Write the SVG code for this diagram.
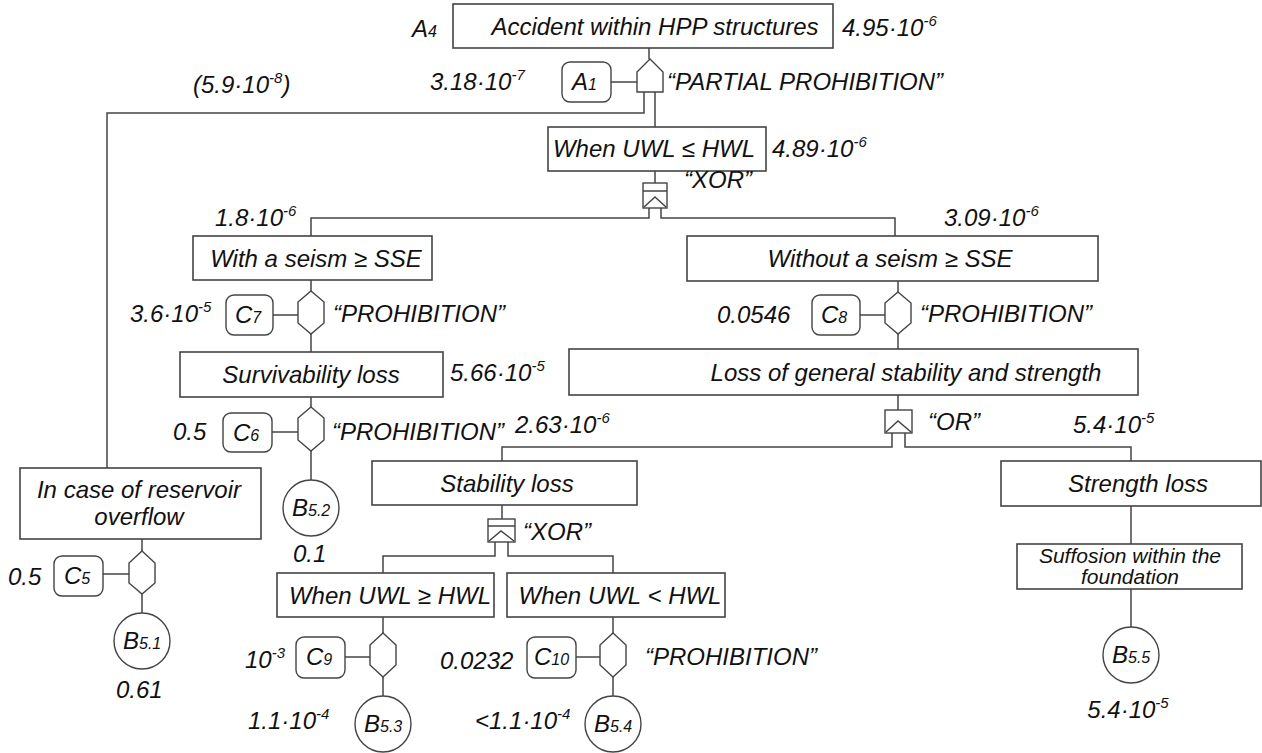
<svg xmlns="http://www.w3.org/2000/svg" width="1262" height="753" viewBox="0 0 1262 753">
<style>
text{font-family:"Liberation Sans",Arial,sans-serif;font-style:italic;font-size:24px;fill:#111}
.m{text-anchor:middle}
.s{font-size:21px}
.sup{font-size:15px}
.sub{font-size:16px}
.box{fill:#fff;stroke:#444;stroke-width:1.6}
.cb{fill:#fff;stroke:#444;stroke-width:1.4}
.g{fill:#fff;stroke:#444;stroke-width:1.4}
.ln{fill:none;stroke:#444;stroke-width:1.5}
</style>
<rect width="1262" height="753" fill="#fff"/>
<g id="connectors" class="ln">
<path d="M649 48V59"/>
<path d="M611 82H637"/>
<path d="M644 92V113H107V468"/>
<path d="M655 92V127"/>
<path d="M655 171V183"/>
<path d="M649 208V218H311V236"/>
<path d="M661 208V218H895V236"/>
<path d="M311 280V291"/>
<path d="M273 315H298"/>
<path d="M311 334V352"/>
<path d="M311 397V407"/>
<path d="M272 432H298"/>
<path d="M311 451V480"/>
<path d="M898 281V292"/>
<path d="M860 315H885"/>
<path d="M898 334V349"/>
<path d="M898 395V410"/>
<path d="M892 433V447H502V461"/>
<path d="M905 433V447H1131V461"/>
<path d="M502 505V519"/>
<path d="M495 542V556H383V573"/>
<path d="M508 542V556H613V573"/>
<path d="M383 617V633"/>
<path d="M345 657H370"/>
<path d="M383 677V696"/>
<path d="M613 617V633"/>
<path d="M576 657H600"/>
<path d="M613 677V696"/>
<path d="M142 539V551"/>
<path d="M103 574H129"/>
<path d="M142 594V613"/>
<path d="M1131 506V544"/>
<path d="M1131 589V627"/>
</g>
<g id="top">
<rect class="box" x="453" y="4" width="380" height="44"/>
<text class="m" x="655" y="35">Accident within HPP structures</text>
<text x="412" y="37">A<tspan class="sub">4</tspan></text>
<text x="842" y="36">4.95·10<tspan class="sup" dy="-10">-6</tspan></text>
</g>
<g id="gate-partial">
<polygon class="g" points="650,59 663,72 663,92 637,92 637,72"/>
<text x="667" y="90">“PARTIAL PROHIBITION”</text>
<text x="430" y="90">3.18·10<tspan class="sup" dy="-10">-7</tspan></text>
</g>
<g id="A1">
<rect class="cb" x="562" y="62" width="49" height="40" rx="8"/>
<text x="572" y="90">A<tspan class="sub">1</tspan></text>
</g>
<g id="note-overflow">
<text x="193" y="93">(5.9·10<tspan class="sup" dy="-10">-8</tspan><tspan dy="10">)</tspan></text>
</g>
<g id="when-le">
<rect class="box" x="548" y="127" width="218" height="44"/>
<text class="m" x="654" y="157">When UWL ≤ HWL</text>
<text x="772" y="157">4.89·10<tspan class="sup" dy="-10">-6</tspan></text>
</g>
<g id="xor1">
<rect class="g" x="643" y="183" width="24" height="25"/>
<path class="ln" d="M643 191H667M644 207L655 197L666 207"/>
<text x="684" y="188">“XOR”</text>
</g>
<g id="with-seism">
<rect class="box" x="193" y="236" width="239" height="44"/>
<text class="m" x="316" y="267">With a seism ≥ SSE</text>
<text x="215" y="226">1.8·10<tspan class="sup" dy="-10">-6</tspan></text>
</g>
<g id="without-seism">
<rect class="box" x="687" y="236" width="411" height="45"/>
<text class="m" x="890" y="267">Without a seism ≥ SSE</text>
<text x="944" y="226">3.09·10<tspan class="sup" dy="-10">-6</tspan></text>
</g>
<g id="C7">
<polygon class="g" points="311,291 324,302 324,323 311,334 298,323 298,302"/>
<rect class="cb" x="226" y="295" width="47" height="40" rx="8"/>
<text x="235" y="323">C<tspan class="sub">7</tspan></text>
<text x="130" y="322">3.6·10<tspan class="sup" dy="-10">-5</tspan></text>
<text x="333" y="322">“PROHIBITION”</text>
</g>
<g id="C8">
<polygon class="g" points="898,292 911,303 911,323 898,334 885,323 885,303"/>
<rect class="cb" x="812" y="295" width="48" height="40" rx="8"/>
<text x="821" y="323">C<tspan class="sub">8</tspan></text>
<text x="717" y="323">0.0546</text>
<text x="920" y="322">“PROHIBITION”</text>
</g>
<g id="survivability">
<rect class="box" x="180" y="352" width="263" height="45"/>
<text class="m" x="311" y="383">Survivability loss</text>
</g>
<g id="general-loss">
<rect class="box" x="569" y="349" width="569" height="46"/>
<text class="m" x="906" y="381">Loss of general stability and strength</text>
<text x="450" y="381">5.66·10<tspan class="sup" dy="-10">-5</tspan></text>
</g>
<g id="C6">
<polygon class="g" points="311,407 324,418 324,440 311,451 298,440 298,418"/>
<rect class="cb" x="223" y="413" width="49" height="39" rx="8"/>
<text x="233" y="441">C<tspan class="sub">6</tspan></text>
<text x="173" y="440">0.5</text>
<text x="332" y="440">“PROHIBITION”</text>
<text x="515" y="433">2.63·10<tspan class="sup" dy="-10">-6</tspan></text>
</g>
<g id="B52">
<circle class="g" cx="311" cy="508" r="28"/>
<text x="292" y="516">B<tspan class="sub">5.2</tspan></text>
<text x="293" y="562">0.1</text>
</g>
<g id="or">
<rect class="g" x="885" y="410" width="27" height="23"/>
<path class="ln" d="M886 432L898 421L911 432"/>
<text x="928" y="430">“OR”</text>
<text x="1073" y="433">5.4·10<tspan class="sup" dy="-10">-5</tspan></text>
</g>
<g id="overflow">
<rect class="box" x="20" y="468" width="241" height="71"/>
<text class="m" x="139" y="498">In case of reservoir</text>
<text class="m" x="139" y="525">overflow</text>
</g>
<g id="C5">
<polygon class="g" points="142,551 155,563 155,583 142,594 129,583 129,563"/>
<rect class="cb" x="54" y="556" width="49" height="40" rx="8"/>
<text x="64" y="584">C<tspan class="sub">5</tspan></text>
<text x="8" y="585">0.5</text>
</g>
<g id="B51">
<circle class="g" cx="142" cy="641" r="28"/>
<text x="123" y="649">B<tspan class="sub">5.1</tspan></text>
<text x="116" y="698">0.61</text>
</g>
<g id="stability">
<rect class="box" x="372" y="461" width="265" height="44"/>
<text class="m" x="507" y="492">Stability loss</text>
</g>
<g id="xor2">
<rect class="g" x="488" y="519" width="27" height="23"/>
<path class="ln" d="M488 526H515M489 541L501 531L514 541"/>
<text x="523" y="540">“XOR”</text>
</g>
<g id="when-ge">
<rect class="box" x="277" y="573" width="217" height="44"/>
<text class="m" x="390" y="604">When UWL ≥ HWL</text>
</g>
<g id="when-lt">
<rect class="box" x="507" y="573" width="218" height="44"/>
<text class="m" x="620" y="604">When UWL &lt; HWL</text>
</g>
<g id="C9">
<polygon class="g" points="383,633 396,645 396,665 383,677 370,665 370,645"/>
<rect class="cb" x="296" y="637" width="49" height="41" rx="8"/>
<text x="306" y="665">C<tspan class="sub">9</tspan></text>
<text x="245" y="668">10<tspan class="sup" dy="-10">-3</tspan></text>
</g>
<g id="C10">
<polygon class="g" points="613,633 626,645 626,665 613,677 600,665 600,645"/>
<rect class="cb" x="527" y="637" width="49" height="41" rx="8"/>
<text x="534" y="665">C<tspan class="sub">10</tspan></text>
<text x="440" y="669">0.0232</text>
<text x="645" y="665">“PROHIBITION”</text>
</g>
<g id="B53">
<circle class="g" cx="383" cy="724" r="28"/>
<text x="364" y="732">B<tspan class="sub">5.3</tspan></text>
<text x="248" y="729">1.1·10<tspan class="sup" dy="-10">-4</tspan></text>
</g>
<g id="B54">
<circle class="g" cx="613" cy="724" r="28"/>
<text x="594" y="732">B<tspan class="sub">5.4</tspan></text>
<text x="475" y="729">&lt;1.1·10<tspan class="sup" dy="-10">-4</tspan></text>
</g>
<g id="strength">
<rect class="box" x="1001" y="461" width="260" height="45"/>
<text class="m" x="1138" y="492">Strength loss</text>
</g>
<g id="suffosion">
<rect class="box" x="1017" y="544" width="225" height="45"/>
<text class="m s" x="1130" y="563">Suffosion within the</text>
<text class="m s" x="1130" y="584">foundation</text>
</g>
<g id="B55">
<circle class="g" cx="1131" cy="655" r="28"/>
<text x="1112" y="663">B<tspan class="sub">5.5</tspan></text>
<text class="m" x="1128" y="718">5.4·10<tspan class="sup" dy="-10">-5</tspan></text>
</g>
</svg>
